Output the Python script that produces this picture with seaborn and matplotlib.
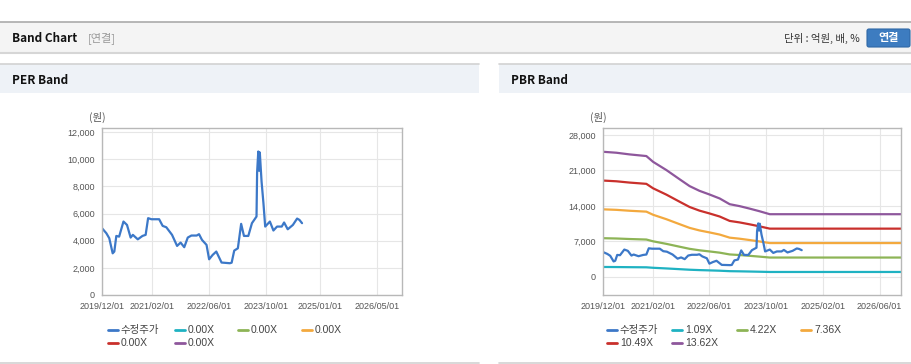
import pandas as pd
import matplotlib
matplotlib.use("Agg")
import matplotlib.pyplot as plt
from matplotlib.patches import Rectangle, FancyBboxPatch
from matplotlib.lines import Line2D
import seaborn as sns

# ---- data ----
price_dates = ['2019-12-01', '2020-01-07', '2020-02-01', '2020-03-01', '2020-03-15', '2020-04-01',
               '2020-04-25', '2020-06-01', '2020-07-01', '2020-08-01', '2020-08-20', '2020-10-01',
               '2020-11-10', '2020-12-07', '2020-12-28', '2021-01-25', '2021-04-01', '2021-05-01',
               '2021-06-01', '2021-07-20', '2021-09-01', '2021-10-01', '2021-11-01', '2021-12-01',
               '2022-01-01', '2022-02-15', '2022-03-07', '2022-04-01', '2022-05-10', '2022-06-01',
               '2022-07-01', '2022-08-01', '2022-09-15', '2022-11-25', '2022-12-10', '2023-01-01',
               '2023-02-01', '2023-03-01', '2023-03-25', '2023-05-01', '2023-06-01', '2023-07-10',
               '2023-07-15', '2023-07-25', '2023-08-01', '2023-08-07', '2023-08-22', '2023-09-07',
               '2023-09-22', '2023-11-01', '2023-12-01', '2024-01-01', '2024-02-10', '2024-03-01',
               '2024-04-01', '2024-05-15', '2024-06-20', '2024-07-10', '2024-08-01']
price_values = [4920, 4550, 4180, 3070, 3200, 4350, 4300, 5410, 5160, 4230, 4430, 4100,
                4350, 4430, 5660, 5580, 5580, 5090, 4990, 4430, 3615, 3860, 3520, 4230,
                4380, 4380, 4480, 4060, 3690, 2630, 2950, 3200, 2390, 2340, 2380, 3270,
                3440, 5240, 4350, 4350, 5290, 5780, 9020, 10570, 9150, 10500, 8360, 6760,
                5040, 5410, 4750, 5040, 5040, 5340, 4840, 5160, 5630, 5530, 5290]

band_dates = ['2019-12-01', '2020-03-25', '2020-07-15', '2020-12-07', '2021-02-03', '2021-05-28',
              '2021-09-20', '2021-12-13', '2022-03-07', '2022-06-01', '2022-08-28', '2022-11-22',
              '2023-02-15', '2023-05-10', '2023-08-03', '2023-11-01', '2026-12-01']
pbr_1_09 = [1976, 1961, 1935, 1909, 1817, 1687, 1540, 1434, 1360, 1303, 1239, 1149, 1118, 1080, 1039, 991, 991]
pbr_4_22 = [7651, 7592, 7491, 7389, 7035, 6533, 5963, 5554, 5267, 5043, 4798, 4448, 4330, 4182, 4022, 3836, 3836]
pbr_7_36 = [13344, 13241, 13064, 12887, 12269, 11393, 10400, 9686, 9185, 8795, 8368, 7757, 7551, 7294, 7014, 6690, 6690]
pbr_10_49 = [19018, 18872, 18620, 18368, 17487, 16239, 14822, 13805, 13092, 12536, 11927, 11056, 10763, 10396, 9997, 9535, 9535]
pbr_13_62 = [24693, 24502, 24176, 23849, 22705, 21084, 19245, 17924, 16998, 16276, 15486, 14355, 13974, 13497, 12980, 12381, 12381]

per_labels = ['수정주가', '0.00X', '0.00X', '0.00X', '0.00X', '0.00X']
pbr_labels = ['수정주가', '1.09X', '4.22X', '7.36X', '10.49X', '13.62X']
series_colors = ['#3c78c8', '#1fb2c2', '#8db456', '#f3a93e', '#c9302c', '#8e579c']

per_xticks = ['2019-12-01', '2021-02-01', '2022-06-01', '2023-10-01', '2025-01-01', '2026-05-01']
pbr_xticks = ['2019-12-01', '2021-02-01', '2022-06-01', '2023-10-01', '2025-02-01', '2026-06-01']
per_yticks = [0, 2000, 4000, 6000, 8000, 10000, 12000]
pbr_yticks = [0, 7000, 14000, 21000, 28000]

# ---- tables ----
price_df = pd.DataFrame({'date': pd.to_datetime(price_dates), 'value': price_values, 'series': '수정주가'})
per_df = price_df.copy()

band_frames = [price_df]
for lab, vals in zip(pbr_labels[1:], [pbr_1_09, pbr_4_22, pbr_7_36, pbr_10_49, pbr_13_62]):
    band_frames.append(pd.DataFrame({'date': pd.to_datetime(band_dates), 'value': vals, 'series': lab}))
pbr_df = pd.concat(band_frames, ignore_index=True)

# ---- figure ----
sns.set_theme(style='white')
plt.rcParams['font.family'] = ['Noto Sans CJK KR', 'DejaVu Sans']

W, H = 912, 364
fig = plt.figure(figsize=(W / 100, H / 100), dpi=100)
fig.patch.set_facecolor('white')

bg = fig.add_axes([0, 0, 1, 1], zorder=-5)
bg.set_xlim(0, W)
bg.set_ylim(H, 0)
bg.axis('off')

# header strip
bg.add_patch(Rectangle((0, 22), W, 31, facecolor='#f4f4f4', edgecolor='none'))
bg.plot([0, W], [22, 22], color='#aaaaaa', lw=1.2)
bg.plot([0, W], [53, 53], color='#d6d6d6', lw=1.5)
bg.text(12, 38, 'Band Chart', fontsize=8.5, fontweight='bold', color='#111111', va='center')
bg.text(88, 38, '[연결]', fontsize=8, color='#999999', va='center')
bg.text(860, 38, '단위 : 억원, 배, %', fontsize=7.5, color='#333333', va='center', ha='right')
bg.add_patch(FancyBboxPatch((867, 29), 43, 18, boxstyle='round,pad=0,rounding_size=2',
                            facecolor='#3d7cc0', edgecolor='#2f68a6', lw=0.8))
bg.text(888.5, 38, '연결', fontsize=8, fontweight='bold', color='white', va='center', ha='center')

# panel title bars
for x0, x1, title in [(0, 479, 'PER Band'), (499, W, 'PBR Band')]:
    bg.add_patch(Rectangle((x0, 64), x1 - x0, 29, facecolor='#eef2f7', edgecolor='none'))
    bg.plot([x0, x1], [64, 64], color='#d2d2d2', lw=1.2)
    bg.plot([x0, x1], [363, 363], color='#d2d2d2', lw=1.2)
    bg.text(x0 + 12, 80, title, fontsize=8.5, fontweight='bold', color='#111111', va='center')


def px_axes(x0, y0, x1, y1):
    return fig.add_axes([x0 / W, 1 - y1 / H, (x1 - x0) / W, (y1 - y0) / H])


def style_axes(ax, xticks, yticks, ylim):
    ax.set_xlim(pd.Timestamp('2019-12-01'), pd.Timestamp('2026-12-01'))
    ax.set_ylim(*ylim)
    ax.set_xticks(pd.to_datetime(xticks))
    ax.set_xticklabels([t.replace('-', '/') for t in xticks])
    ax.set_yticks(yticks)
    ax.set_yticklabels([f'{v:,}' for v in yticks])
    ax.set_xlabel('')
    ax.set_ylabel('')
    ax.grid(True, color='#e6e6e6', lw=0.8)
    ax.set_axisbelow(True)
    for s in ax.spines.values():
        s.set_color('#b8b8b8')
        s.set_linewidth(1.0)
    ax.tick_params(axis='both', direction='out', length=3, width=0.8, color='#b0b0b0',
                   labelsize=6.5, labelcolor='#555555', pad=2)
    for lab in ax.get_xticklabels() + ax.get_yticklabels():
        lab.set_fontfamily(['Liberation Sans', 'DejaVu Sans'])


palette_per = {'수정주가': series_colors[0]}
palette_pbr = dict(zip(pbr_labels, series_colors))

ax1 = px_axes(102, 128, 402, 295)
sns.lineplot(data=per_df, x='date', y='value', hue='series', palette=palette_per,
             legend=False, linewidth=1.6, estimator=None, ax=ax1)
style_axes(ax1, per_xticks, per_yticks, (0, 12300))

ax2 = px_axes(603, 128, 901, 295)
sns.lineplot(data=pbr_df, x='date', y='value', hue='series', palette=palette_pbr,
             hue_order=pbr_labels[1:] + pbr_labels[:1],
             legend=False, linewidth=1.6, estimator=None, ax=ax2)
style_axes(ax2, pbr_xticks, pbr_yticks, (-3550, 29380))

bg.text(97, 117, '(원)', fontsize=7.5, color='#555555', ha='center', va='center')
bg.text(598, 117, '(원)', fontsize=7.5, color='#555555', ha='center', va='center')

# legends laid out like the page's fixed-width legend boxes
def draw_legend(x_cols, labels):
    rows = [330, 343]
    for i, (lab, col) in enumerate(zip(labels, series_colors)):
        x = x_cols[i % 4]
        y = rows[i // 4]
        bg.add_line(Line2D([x, x + 10], [y, y], color=col, lw=2))
        bg.text(x + 13, y, lab, fontsize=7.5, color='#444444', va='center',
                family=['Liberation Sans', 'Noto Sans CJK KR'])


draw_legend([108, 175, 238, 302], per_labels)
draw_legend([607, 672, 737, 801], pbr_labels)

fig.savefig('out.png', dpi=100)
